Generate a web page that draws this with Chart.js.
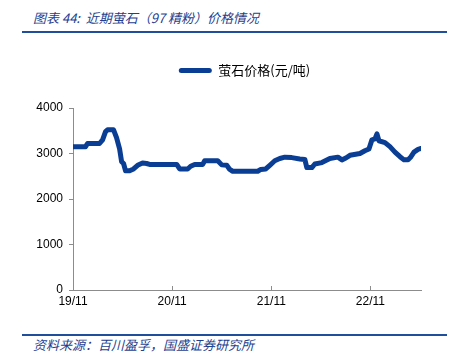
<!DOCTYPE html>
<html><head><meta charset="utf-8">
<script src="https://cdn.jsdelivr.net/npm/chart.js@4/dist/chart.umd.min.js"></script>
<style>
html,body{margin:0;padding:0;background:#fff;width:459px;height:360px;overflow:hidden;}
#wrap{position:absolute;left:0;top:0;width:459px;height:360px;}
.cap{position:absolute;font-family:"Noto Sans CJK SC",sans-serif;font-style:italic;color:#1f3f8f;white-space:nowrap;}
.rule{position:absolute;left:22px;width:425px;height:2px;background:#1f4e9c;}
</style></head>
<body>
<div class="cap" id="title" style="left:33px;top:8px;font-size:13px;">图表 44:&nbsp; 近期萤石（97 精粉）价格情况</div>
<div class="rule" style="top:31px;"></div>
<div class="rule" style="top:334px;"></div>
<div class="cap" id="src" style="left:33px;top:335px;font-size:13px;">资料来源：百川盈孚，国盛证券研究所</div>
<div id="wrap"><canvas id="c" width="459" height="360"></canvas></div>
<script>
// months since 2019-11
const months = [0,1.52,1.76,3.21,3.58,3.94,4.18,4.91,5.27,5.64,5.88,6.12,6.36,6.85,7.33,7.82,8.42,8.91,9.27,12.55,12.91,13.88,14.24,14.73,15.70,15.94,17.52,18.00,18.61,18.97,19.33,22.36,22.73,23.33,23.82,24.42,25.03,25.64,26.48,27.45,28.06,28.30,28.91,29.27,30.12,31.09,32.06,32.55,33.03,33.52,34.73,35.33,35.82,36.18,36.55,36.79,37.03,37.76,38.36,38.97,39.58,40.06,40.55,40.91,41.27,41.76,42.12];
const prices = [3150,3150,3220,3220,3300,3480,3520,3520,3350,3100,2820,2780,2620,2620,2660,2740,2790,2780,2760,2760,2660,2660,2720,2760,2760,2840,2840,2750,2740,2650,2610,2610,2650,2660,2740,2840,2890,2920,2910,2880,2870,2690,2690,2770,2800,2890,2920,2860,2900,2960,3000,3060,3100,3300,3320,3430,3280,3240,3150,3030,2930,2860,2860,2930,3030,3090,3110];
const tickMonths = [0,12,24,36];
const tickLabels = ['19/11','20/11','21/11','22/11'];
const seriesName = '萤石价格(元/吨)';
const blue = '#0a3d94';

const innerTicks = {
  id:'innerTicks',
  afterInit(chart){
    const lg = chart.legend;
    if(lg && !lg._shifted){
      const orig = lg.draw;
      lg.draw = function(){ const c=this.ctx; c.save(); c.translate(34,0); orig.apply(this,arguments); c.restore(); };
      lg._shifted = true;
    }
  },
  afterDatasetsDraw(chart){
    const x = chart.scales.x, ctx = chart.ctx, y0 = chart.chartArea.bottom;
    ctx.save(); ctx.strokeStyle='#8c8c8c'; ctx.lineWidth=1;
    tickMonths.forEach(m=>{ if(m===0) return; const px=Math.round(x.getPixelForValue(m))+0.5;
      ctx.beginPath(); ctx.moveTo(px,y0); ctx.lineTo(px,y0-4); ctx.stroke(); });
    ctx.restore();
  }
};

new Chart(document.getElementById('c'),{
  type:'line',
  data:{datasets:[{label:seriesName,data:months.map((m,i)=>({x:m,y:prices[i]})),borderColor:blue,backgroundColor:blue,borderWidth:5,pointRadius:0,tension:0,borderJoinStyle:'round',borderCapStyle:'round'}]},
  options:{
    responsive:false,animation:false,devicePixelRatio:1,
    layout:{padding:{top:37,right:38,bottom:46,left:0}},
    plugins:{
      legend:{display:true,position:'top',labels:{boxWidth:33,boxHeight:5,color:'#000',font:{family:'"Noto Sans CJK SC","Liberation Sans",sans-serif',size:13},padding:27,
        generateLabels(chart){return [{text:seriesName,fillStyle:blue,strokeStyle:blue,lineWidth:0,borderRadius:2.5,datasetIndex:0}];}}},
      title:{display:true,text:'',position:'top',weight:500,font:{size:1,lineHeight:1},padding:{top:0,bottom:20}},
      tooltip:{enabled:false}
    },
    scales:{
      x:{type:'linear',min:0,max:42.12,
        afterBuildTicks(s){s.ticks=tickMonths.map(v=>({value:v}));},
        afterFit(s){s.height=24;},
        grid:{display:true,drawOnChartArea:false,drawTicks:false,color:'#8c8c8c'},
        border:{display:true,color:'#8c8c8c',width:1},
        ticks:{padding:4,maxRotation:0,autoSkip:false,color:'#000',font:{family:'"Liberation Sans",Arial,sans-serif',size:12},
          callback:(v)=>tickLabels[tickMonths.indexOf(v)]}},
      y:{min:0,max:4000,
        afterFit(s){s.width=73;},
        grid:{display:true,drawOnChartArea:false,drawTicks:true,tickLength:4,color:'#8c8c8c'},
        border:{display:true,color:'#8c8c8c',width:1},
        ticks:{stepSize:1000,padding:6,color:'#000',font:{family:'"Liberation Sans",Arial,sans-serif',size:12},
          callback:(v)=>String(v)}}
    }
  },
  plugins:[innerTicks]
});
</script>
</body></html>
